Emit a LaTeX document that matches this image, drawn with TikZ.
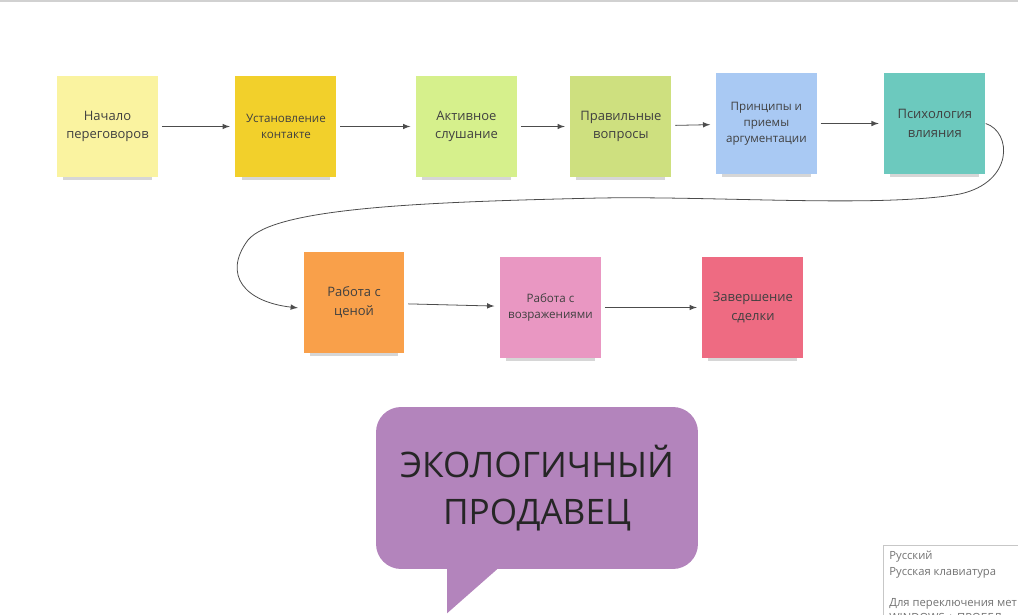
\documentclass[tikz,border=0pt]{standalone}
\usepackage{fontspec}
\setmainfont{Open Sans}
\usetikzlibrary{shapes,
                arrows,
                positioning,
                shadows}
\definecolor{paleyellow}{HTML}{FAF3A0}
\definecolor{gold}{HTML}{F2D02B}
\definecolor{lime}{HTML}{D6F08C}
\definecolor{olive}{HTML}{CEE07F}
\definecolor{skyblue}{HTML}{A9C9F3}
\definecolor{teal}{HTML}{6CC9BE}
\definecolor{orange}{HTML}{F9A04A}
\definecolor{pink}{HTML}{E997C2}
\definecolor{rose}{HTML}{EE6B82}
\definecolor{lilac}{HTML}{B384BC}
\tikzset{sticker/.style =
   {rectangle,
    minimum width=2.02cm,
    minimum height=2.02cm,
    align=center,
    text=black!75,
    font=\fontsize{7.4}{10.6}\selectfont,
    drop shadow={shadow xshift=0pt,
                 shadow yshift=-6pt,
                 shadow scale=0.88,
                 opacity=0.32}}}
\tikzset{small-text/.style = {font=\fontsize{6.6}{9}\selectfont}}
\tikzset{bubble/.style =
   {rectangle,
    rounded corners=0.5cm,
    fill=lilac,
    align=center,
    text=black!85,
    minimum width=6.44cm,
    minimum height=3.24cm,
    font=\fontsize{20}{27}\selectfont}}
\tikzset{tooltip/.style =
   {rectangle,
    draw=black!22,
    fill=white,
    align=left,
    text=black!55,
    inner sep=3.4pt,
    font=\fontsize{6.4}{8.8}\selectfont}}
\tikzset{arrow/.style = {draw, -latex, black!70, line width=0.45pt,
                         shorten >=3pt, shorten <=2pt}}

\begin{document}
\begin{tikzpicture}[x=0.02cm, y=-0.02cm]

        \useasboundingbox (0,0) rectangle (1018,615);
        \clip (0,0) rectangle (1018,615);
        \draw [black!18, line width=1.2pt] (0,0.5) -- (1018,0.5);

        % first row
        \node [sticker, fill=paleyellow] (start) at (107.5,126.5)
              {Начало\\переговоров};

        \node [sticker, small-text, fill=gold,
               right of = start,
               node distance = 3.57cm] (contact)
              {Установление\\контакте};

        \node [sticker, fill=lime,
               right of = contact,
               node distance = 3.61cm] (listen)
              {Активное\\слушание};

        \node [sticker, fill=olive,
               right of = listen,
               node distance = 3.09cm] (questions)
              {Правильные\\вопросы};

        \node [sticker, small-text, fill=skyblue,
               right of = questions,
               node distance = 2.91cm,
               yshift=0.06cm] (argue)
              {Принципы и\\приемы\\аргументации};

        \node [sticker, fill=teal,
               right of = argue,
               node distance = 3.37cm] (influence)
              {Психология\\влияния};

        % second row
        \node [sticker, fill=orange] (price) at (354,302.5)
              {Работа с\\ценой};

        \node [sticker, small-text, fill=pink,
               right of = price,
               node distance = 3.93cm,
               yshift=-0.1cm] (objections)
              {Работа с\\возражениями};

        \node [sticker, fill=rose,
               right of = objections,
               node distance = 4.05cm] (deal)
              {Завершение\\сделки};

        \draw [arrow] (start) -- (contact);
        \draw [arrow] (contact) -- (listen);
        \draw [arrow] (listen) -- (questions);
        \draw [arrow] (questions) -- (argue);
        \draw [arrow] (argue) -- (influence);
        \draw [arrow, shorten <=0pt]
         (influence.east) .. controls (1012,132) and (1014,182) .. (960,194)
         .. controls (880,208) and (720,196) .. (600,198)
         .. controls (420,202) and (275,208) .. (248,240)
         .. controls (222,275) and (245,302) .. ([yshift=-0.12cm]price.west);
        \draw [arrow] (price) -- (objections);
        \draw [arrow] (objections) -- (deal);

        % speech bubble
        \node [bubble] (seller) at (537,488) {ЭКОЛОГИЧНЫЙ\\ПРОДАВЕЦ};
        \fill [lilac] ([xshift=-1.8cm, yshift=0.1cm]seller.south)
         -- ([xshift=-0.8cm, yshift=0.1cm]seller.south)
         -- ([xshift=-0.8cm]seller.south)
         -- ([xshift=-1.8cm, yshift=-0.88cm]seller.south) -- cycle;

        \node [tooltip, anchor=north west] (lang) at (883,545)
              {Русский\\Русская клавиатура\\[8.8pt]Для переключения мет\\WINDOWS + ПРОБЕЛ};

    \end{tikzpicture}
\end{document}
